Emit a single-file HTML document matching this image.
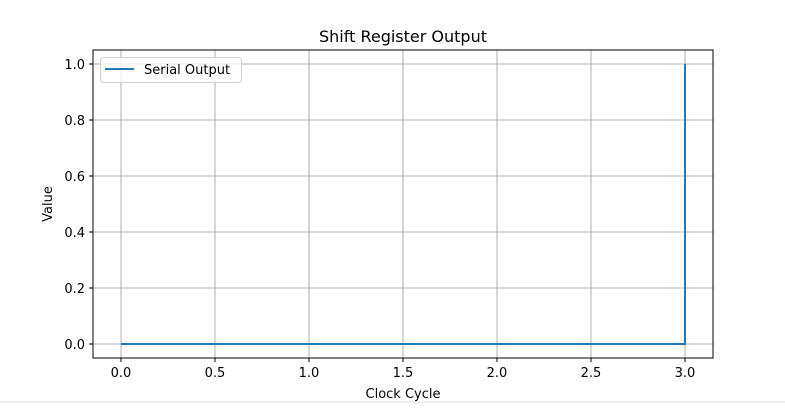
<!DOCTYPE html>
<html><head><meta charset="utf-8"><style>
body{margin:0;background:#fff;width:785px;height:403px;overflow:hidden}
svg{font-family:"DejaVu Sans","Liberation Sans",sans-serif}
</style></head><body>
<svg id="chart" width="785" height="403">
<rect x="0" y="401" width="785" height="2" fill="#eeeeee"/>
<g id="grid"></g>
<g id="ticks"></g>
<g id="series"></g>
<rect x="93" y="50" width="620" height="308" fill="none" stroke="#000" stroke-width="1"/>
<text x="403" y="42" text-anchor="middle" font-size="16">Shift Register Output</text>
<text x="403" y="398" text-anchor="middle" font-size="13">Clock Cycle</text>
<text x="52" y="204" text-anchor="middle" font-size="13" transform="rotate(-90 52 204)">Value</text>
<g>
<rect x="100.5" y="57.5" width="141" height="25" rx="3" fill="#fff" fill-opacity="0.8" stroke="#d0d0d0"/>
<line x1="105" y1="69" x2="134" y2="69" stroke="#1f77b4" stroke-width="2"/>
<text x="144" y="74" font-size="13">Serial Output</text>
</g>
</svg>
<script>
const xValues=[0,1,2,3];
const yValues=[0,0,0,1];
const xTicks=[0,0.5,1,1.5,2,2.5,3];
const xTickLabels=["0.0","0.5","1.0","1.5","2.0","2.5","3.0"];
const yTicks=[0,0.2,0.4,0.6,0.8,1.0];
const yTickLabels=["0.0","0.2","0.4","0.6","0.8","1.0"];
const NS="http://www.w3.org/2000/svg";
const X=v=>121+v*188, Y=v=>344-v*280;
function mk(t,a,p){const e=document.createElementNS(NS,t);for(const k in a)e.setAttribute(k,a[k]);p.appendChild(e);return e;}
const grid=document.getElementById('grid'),ticks=document.getElementById('ticks'),ser=document.getElementById('series');
xTicks.forEach((v,i)=>{const x=X(v);
const g=mk('line',{x1:x,x2:x,y1:50,y2:358,stroke:'#b0b0b0','stroke-width':1},grid);


const t=mk('line',{x1:x,x2:x,y1:358,y2:362,stroke:'#000'},ticks);


const l=mk('text',{x:x,y:377,'text-anchor':'middle','font-size':13},ticks);l.textContent=xTickLabels[i];

});
yTicks.forEach((v,i)=>{const y=Y(v);
const g=mk('line',{x1:93,x2:713,y1:y,y2:y,stroke:'#b0b0b0','stroke-width':1},grid);


const t=mk('line',{x1:89,x2:93,y1:y,y2:y,stroke:'#000'},ticks);


const l=mk('text',{x:85,y:y+5,'text-anchor':'end','font-size':13},ticks);l.textContent=yTickLabels[i];

});
let pts=[];
for(let i=0;i<xValues.length;i++){
 if(i>0)pts.push(X(xValues[i])+','+Y(yValues[i-1]));
 pts.push(X(xValues[i])+','+Y(yValues[i]));}
const pl=mk('polyline',{points:pts.join(' '),fill:'none',stroke:'#1f77b4','stroke-width':2},ser);


</script>
</body></html>
